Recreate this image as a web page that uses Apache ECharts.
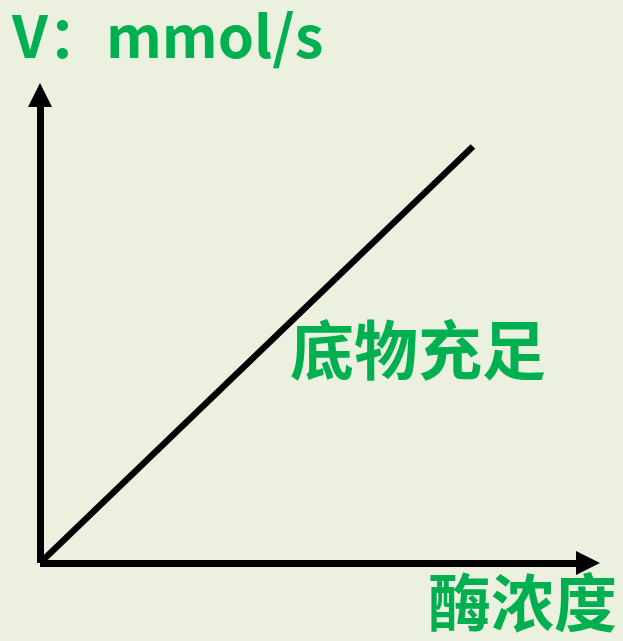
<!DOCTYPE html>
<html>
<head>
<meta charset="utf-8">
<script src="https://cdn.jsdelivr.net/npm/echarts@6/dist/echarts.min.js"></script>
<style>
html,body{margin:0;padding:0;background:#EBF0DF;}
#c{width:623px;height:641px;}
</style>
</head>
<body>
<div id="c"></div>
<script>
// Data
const xValues = [0, 7.9];
const yValues = [0, 8.9];
const yAxisTitle = 'V：mmol/s';
const xAxisTitle = '酶浓度';
const lineLabel = '底物充足';

const green = '#00B050';
const font = '"Noto Sans CJK SC", "Noto Sans", sans-serif';

const chart = echarts.init(document.getElementById('c'), null, {renderer: 'canvas'});
const arrowPath = 'path://M0,0 L12,24 L-12,24 Z';
const axisCommon = {
  type: 'value', min: 0, max: 10,
  splitLine: {show: false}, axisTick: {show: false}, axisLabel: {show: false},
  axisLine: {
    show: true, onZero: false,
    symbol: ['none', arrowPath], symbolSize: [24, 25],
    lineStyle: {color: '#000', width: 7, cap: 'butt'}
  }
};
chart.setOption({
  backgroundColor: '#EBF0DF',
  animation: false,
  grid: {left: 40, right: 35, top: 95, bottom: 78},
  xAxis: Object.assign({}, axisCommon),
  yAxis: Object.assign({}, axisCommon),
  series: [{
    type: 'line',
    data: xValues.map((x, i) => [x, yValues[i]]),
    symbol: 'none',
    lineStyle: {color: '#000', width: 6.5, cap: 'butt'}
  }],
  graphic: [
    {type: 'text', left: 12, top: 7, style: {text: yAxisTitle, fill: green, font: 'bold 58px ' + font}},
    {type: 'text', left: 290, top: 318, style: {text: lineLabel, fill: green, font: 'bold 64px ' + font}},
    {type: 'text', left: 428, top: 571, style: {text: xAxisTitle, fill: green, font: 'bold 63px ' + font}}
  ]
});
</script>
</body>
</html>
